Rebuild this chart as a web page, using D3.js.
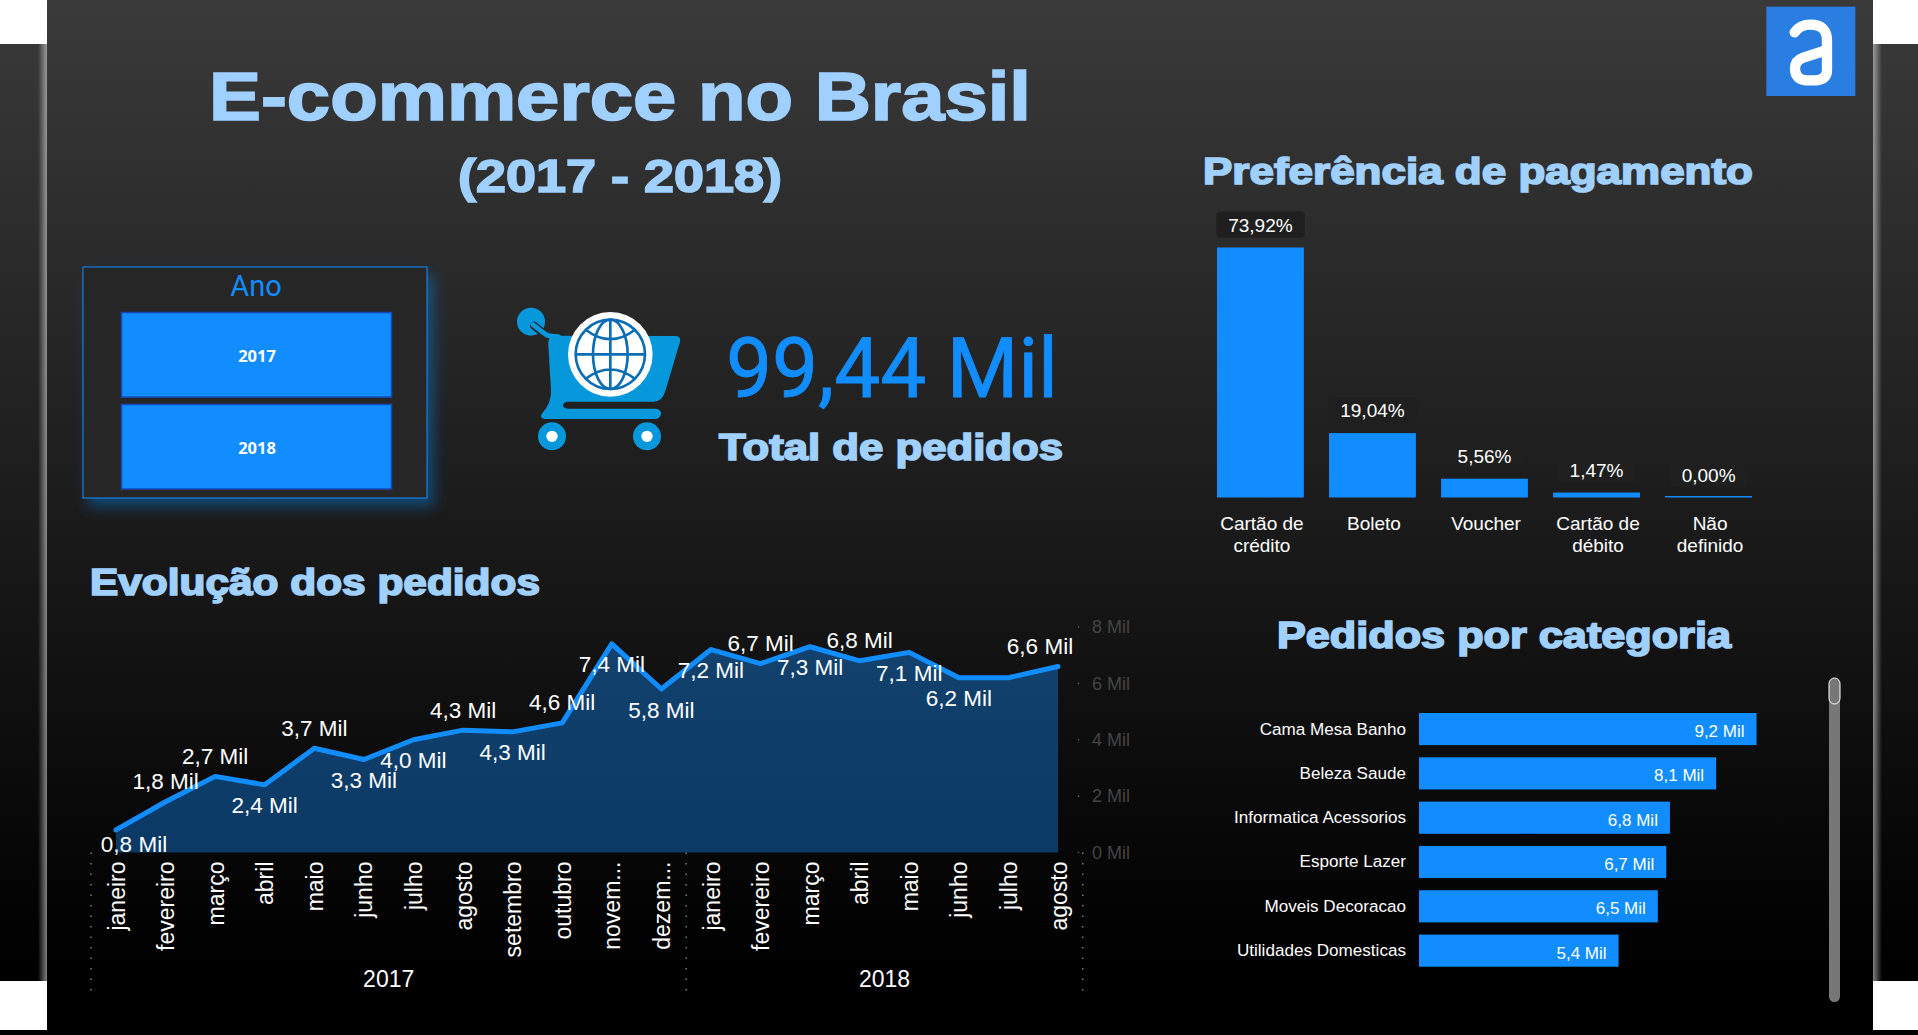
<!DOCTYPE html>
<html>
<head>
<meta charset="utf-8">
<title>E-commerce no Brasil</title>
<script src="https://cdn.jsdelivr.net/npm/d3@7"></script>
<style>
  html, body { margin: 0; padding: 0; background: #000; overflow: hidden; }
  svg { display: block; }
  text { font-family: "Liberation Sans", Arial, sans-serif; }
  .titulo { fill: #9fd0ff; font-weight: bold; stroke: #9fd0ff; stroke-width: 1.7px; }
  .axis path, .axis line { display: none; }
</style>
</head>
<body>
<script>
// Evolucao dos pedidos (mil pedidos por mes)
const meses = ['janeiro', 'fevereiro', 'março', 'abril', 'maio', 'junho', 'julho', 'agosto', 'setembro', 'outubro', 'novem...', 'dezem...',
  'janeiro', 'fevereiro', 'março', 'abril', 'maio', 'junho', 'julho', 'agosto'];
const anos = ['2017', '2018'];
const mesesPorAno = [12, 8];
const pedidosMes = [0.8, 1.8, 2.7, 2.4, 3.7, 3.3, 4.0, 4.34, 4.28, 4.6, 7.4, 5.8, 7.2, 6.7, 7.3, 6.8, 7.1, 6.2, 6.2, 6.6];
const ticksPedidos = [0, 2, 4, 6, 8];

// Preferencia de pagamento (%)
const pagamentos = [['Cartão de', 'crédito'], ['Boleto'], ['Voucher'], ['Cartão de', 'débito'], ['Não', 'definido']];
const pagamentoPct = [73.92, 19.04, 5.56, 1.47, 0.0];

// Pedidos por categoria (mil pedidos)
const categorias = ['Cama Mesa Banho', 'Beleza Saude', 'Informatica Acessorios', 'Esporte Lazer', 'Moveis Decoracao', 'Utilidades Domesticas'];
const pedidosCategoria = [9.2, 8.1, 6.84, 6.74, 6.51, 5.44];

const slicerAnos = ['2017', '2018'];
const totalPedidos = '99,44 Mil';

const w = 1918;
const h = 1035;
const azul = '#118dff';

const br = d3.formatLocale({ decimal: ',', thousands: '.', grouping: [3], currency: ['R$', ''] });
const fmtMil = v => br.format('.1f')(v) + ' Mil';
const fmtPct = v => br.format('.2f')(v) + '%';

const svg = d3.select('body').append('svg').attr('width', w).attr('height', h);
const defs = svg.append('defs');

// Gradiente do fundo
const grad = defs.append('linearGradient').attr('id', 'fundo')
  .attr('gradientUnits', 'userSpaceOnUse').attr('x1', 0).attr('y1', 0).attr('x2', 0).attr('y2', 960);
grad.append('stop').attr('offset', 0).attr('stop-color', '#3a3a3a');
grad.append('stop').attr('offset', 1).attr('stop-color', '#000');

const borda = defs.append('linearGradient').attr('id', 'bordaE');
borda.append('stop').attr('offset', 0).attr('stop-color', '#fff').attr('stop-opacity', 0);
borda.append('stop').attr('offset', 1).attr('stop-color', '#fff').attr('stop-opacity', 0.5);
const bordaD = defs.append('linearGradient').attr('id', 'bordaD');
bordaD.append('stop').attr('offset', 0).attr('stop-color', '#fff').attr('stop-opacity', 0.5);
bordaD.append('stop').attr('offset', 1).attr('stop-color', '#fff').attr('stop-opacity', 0);

defs.append('filter').attr('id', 'sombra').attr('x', '-20%').attr('y', '-20%').attr('width', '140%').attr('height', '140%')
  .append('feDropShadow').attr('dx', 6).attr('dy', 8).attr('stdDeviation', 7)
  .attr('flood-color', azul).attr('flood-opacity', 0.4);

// Fundo da pagina: faixas laterais e painel central
svg.append('rect').attr('width', w).attr('height', h).attr('fill', 'url(#fundo)');
[[0, 47], [1873, 45]].forEach(function (f) {
  svg.append('rect').attr('x', f[0]).attr('y', 0).attr('width', f[1]).attr('height', 44).attr('fill', '#fff');
  svg.append('rect').attr('x', f[0]).attr('y', 981).attr('width', f[1]).attr('height', 49).attr('fill', '#fff');
});
svg.append('rect').attr('x', 38).attr('y', 44).attr('width', 9).attr('height', 937).attr('fill', 'url(#bordaE)');
svg.append('rect').attr('x', 1873).attr('y', 44).attr('width', 9).attr('height', 937).attr('fill', 'url(#bordaD)');

function titulo(txt, x, y, size, len) {
  svg.append('text').attr('class', 'titulo')
    .attr('x', x).attr('y', y)
    .attr('font-size', size)
    .attr('textLength', len).attr('lengthAdjust', 'spacingAndGlyphs')
    .text(txt);
}
titulo('E-commerce no Brasil', 209, 120, 68, 822);
titulo('(2017 - 2018)', 458, 192, 46, 324);
titulo('Total de pedidos', 719, 460, 37, 344);
titulo('Evolução dos pedidos', 90, 595, 36, 450);
titulo('Preferência de pagamento', 1203, 184, 37, 550);
titulo('Pedidos por categoria', 1277, 648, 37, 454);

// Logo
const logo = svg.append('g').attr('transform', 'translate(1750,0) scale(0.3333)');
logo.append('rect').attr('x', 49).attr('y', 20).attr('width', 267).attr('height', 268).attr('fill', '#2a7de1');
logo.append('path')
  .attr('d', 'M134,97 Q150,74 182,74 Q231,74 231,122 V212 Q231,241 190,241 H172 Q135,241 135,205 Q135,182 160,173 L231,150')
  .attr('fill', 'none').attr('stroke', '#fff').attr('stroke-width', 31).attr('stroke-linecap', 'round');

// Slicer de ano
const slicer = svg.append('g');
slicer.append('rect').attr('x', 83).attr('y', 267).attr('width', 344).attr('height', 231)
  .attr('fill', '#252525').attr('stroke', azul).attr('filter', 'url(#sombra)');
slicer.append('text').attr('x', 256).attr('y', 296).attr('text-anchor', 'middle')
  .attr('font-size', 29).attr('fill', azul).style('font-family', 'Roboto').text('Ano');

const ySlicer = d3.scaleBand().domain(slicerAnos).range([312.5, 489]).paddingInner(0.08);
slicer.selectAll('rect.ano').data(slicerAnos).enter().append('rect')
  .attr('class', 'ano')
  .attr('x', 121.5).attr('width', 270)
  .attr('y', d => ySlicer(d)).attr('height', ySlicer.bandwidth())
  .attr('fill', azul).attr('stroke', '#1448b8').attr('stroke-width', 1.5);
slicer.selectAll('text.ano').data(slicerAnos).enter().append('text')
  .attr('class', 'ano')
  .attr('x', 257).attr('y', d => ySlicer(d) + ySlicer.bandwidth() / 2 + 7)
  .attr('text-anchor', 'middle').attr('font-size', 16.5).attr('font-weight', 700)
  .attr('fill', '#fff').style('font-family', '"Open Sans"').text(d => d);

// Carrinho
const cart = svg.append('g').attr('transform', 'translate(500,290) scale(0.3333)');
const corCart = '#0798dc';
cart.append('circle').attr('cx', 93).attr('cy', 95).attr('r', 42).attr('fill', corCart);
cart.append('path').attr('d', 'M102,107 Q125,125 140,140').attr('fill', 'none')
  .attr('stroke', '#252525').attr('stroke-width', 24).attr('stroke-linecap', 'round');
cart.append('path').attr('d', 'M99,104 Q125,125 140,135 Q150,140 175,140').attr('fill', 'none')
  .attr('stroke', corCart).attr('stroke-width', 15).attr('stroke-linecap', 'round');
cart.append('path')
  .attr('d', 'M145,165 Q140,140 170,137 L528,138 Q543,140 540,155 L497,300 Q488,335 460,335 L200,335 Q186,340 190,350 Q195,356 205,356 L468,356 Q485,360 483,372 Q480,387 465,387 L135,387 Q118,385 125,372 Q155,340 153,300 Z')
  .attr('fill', corCart);
cart.append('circle').attr('cx', 331).attr('cy', 193).attr('r', 127).attr('fill', '#fff');
const globo = cart.append('g').attr('fill', 'none').attr('stroke', '#0b6db3').attr('stroke-width', 8);
globo.append('circle').attr('cx', 331).attr('cy', 193).attr('r', 104);
globo.append('ellipse').attr('cx', 331).attr('cy', 193).attr('rx', 52).attr('ry', 104);
globo.append('path').attr('d', 'M331,89 V297 M227,193 H435 M258,120 Q331,175 404,120 M258,266 Q331,211 404,266');
[156, 441].forEach(function (cx) {
  cart.append('circle').attr('cx', cx).attr('cy', 439).attr('r', 42).attr('fill', corCart);
  cart.append('circle').attr('cx', cx).attr('cy', 439).attr('r', 17).attr('fill', '#fff');
});

// KPI
svg.append('text').attr('x', 726).attr('y', 397).attr('font-size', 84).attr('fill', azul)
  .style('font-family', 'Roboto').attr('stroke', azul).attr('stroke-width', 0.8)
  .attr('textLength', 332).attr('lengthAdjust', 'spacingAndGlyphs')
  .text(totalPedidos);

// ---------- Evolucao dos pedidos ----------
const xMes = d3.scalePoint().domain(d3.range(meses.length)).range([116, 1058]);
const yPed = d3.scaleLinear().domain([0, 8]).range([852.5, 627]);

const area = d3.area().x((d, i) => xMes(i)).y0(yPed(0)).y1(d => yPed(d));
const linha = d3.line().x((d, i) => xMes(i)).y(d => yPed(d));

svg.append('path').datum(pedidosMes).attr('d', area).attr('fill', azul).attr('fill-opacity', 0.38);
svg.append('path').datum(pedidosMes).attr('d', linha)
  .attr('fill', 'none').attr('stroke', azul).attr('stroke-width', 5).attr('stroke-linejoin', 'round').attr('stroke-linecap', 'round');

// eixo Y a direita, bem apagado
const eixoY = svg.append('g').attr('class', 'axis')
  .attr('transform', 'translate(1078,0)')
  .call(d3.axisRight(yPed).tickValues(ticksPedidos).tickSize(0).tickPadding(14).tickFormat(d => d + ' Mil'));
eixoY.selectAll('text').attr('font-size', 18).attr('fill', '#444').style('font-family', '"Liberation Sans"');
svg.append('g').selectAll('circle').data(ticksPedidos).enter().append('circle')
  .attr('cx', 1078.5).attr('cy', d => yPed(d)).attr('r', 0.8).attr('fill', '#666');

// eixo X com os meses na vertical
const eixoX = svg.append('g').attr('class', 'axis')
  .attr('transform', 'translate(0,' + yPed(0) + ')')
  .call(d3.axisBottom(xMes).tickSize(0).tickFormat(i => meses[i]));
eixoX.selectAll('text')
  .attr('font-size', 23).attr('fill', '#fff')
  .style('font-family', '"Liberation Sans"')
  .attr('text-anchor', 'end')
  .attr('transform', 'rotate(-90)')
  .attr('x', -9).attr('y', 0).attr('dy', '0.35em');

// separadores e nomes dos anos
const passo = xMes.step();
let acum = 0;
const limites = [xMes(0) - 25];
mesesPorAno.forEach(function (n, k) {
  const x0 = xMes(acum) - passo / 2;
  const x1 = xMes(acum + n - 1) + passo / 2;
  svg.append('text').attr('x', (x0 + x1) / 2).attr('y', 987)
    .attr('text-anchor', 'middle').attr('font-size', 23).attr('fill', '#fff').text(anos[k]);
  limites.push(x1);
  acum += n;
});
svg.append('g').selectAll('line').data(limites).enter().append('line')
  .attr('x1', d => d).attr('x2', d => d)
  .attr('y1', yPed(0)).attr('y2', 993)
  .attr('stroke', '#999').attr('stroke-width', 1.2).attr('stroke-dasharray', '1.5 9');

// rotulos: acima (-1) ou abaixo (+1) da linha; julho/2018 nao tem rotulo no original
const ladoRotulo = [1, -1, -1, 1, -1, 1, 1, -1, 1, -1, 1, 1, 1, -1, 1, -1, 1, 1, 0, -1];
pedidosMes.forEach(function (d, i) {
  if (ladoRotulo[i] === 0) return;
  // primeiro e ultimo rotulos ficam empurrados para dentro
  const ajuste = i === 0 ? 18 : (i === pedidosMes.length - 1 ? -18 : 0);
  svg.append('text')
    .attr('x', xMes(i) + ajuste)
    .attr('y', yPed(d) + ladoRotulo[i] * (i === 0 ? 14 : 20.5) + 8)
    .attr('text-anchor', 'middle').attr('font-size', 22.5).attr('fill', '#fff')
    .text(fmtMil(d));
});

// ---------- Preferencia de pagamento ----------
const xPag = d3.scaleBand().domain(d3.range(pagamentos.length)).range([1217, 1752]).paddingInner(0.225);
const yPag = d3.scaleLinear().domain([0, 73.92]).range([497.5, 247.5]);

svg.append('g').selectAll('rect').data(pagamentoPct).enter().append('rect')
  .attr('x', (d, i) => xPag(i)).attr('width', xPag.bandwidth())
  .attr('y', d => Math.min(yPag(d), yPag(0) - 1.5))
  .attr('height', d => Math.max(yPag(0) - yPag(d), 1.5))
  .attr('fill', azul);

const rotPag = svg.append('g').selectAll('g').data(pagamentoPct).enter().append('g')
  .attr('transform', (d, i) => 'translate(' + (xPag(i) + xPag.bandwidth() / 2) + ',' + (yPag(d) - 10) + ')');
rotPag.append('rect').attr('y', -26).attr('height', 26).attr('rx', 4).attr('fill', '#1f1f1f');
rotPag.append('text').attr('y', -6).attr('text-anchor', 'middle')
  .attr('font-size', 19).attr('fill', '#fff').text(d => fmtPct(d))
  .each(function () {
    const largura = this.getComputedTextLength() + 24;
    d3.select(this.parentNode).select('rect').attr('x', -largura / 2).attr('width', largura);
  });

const eixoPag = svg.append('g').selectAll('text').data(pagamentos).enter().append('text')
  .attr('text-anchor', 'middle').attr('font-size', 19).attr('fill', '#fff');
eixoPag.selectAll('tspan').data(d => d).enter().append('tspan')
  .attr('y', (d, i) => 530 + i * 22)
  .text(d => d);
eixoPag.each(function (d, i) {
  d3.select(this).selectAll('tspan').attr('x', xPag(i) + xPag.bandwidth() / 2 + 1.5);
});

// ---------- Pedidos por categoria ----------
const xCat = d3.scaleLinear().domain([0, 9.2]).range([1419, 1756.5]);
const yCat = d3.scaleBand().domain(categorias).range([713, 966.7]).paddingInner(0.275);

svg.append('g').selectAll('rect').data(pedidosCategoria).enter().append('rect')
  .attr('x', xCat(0))
  .attr('y', (d, i) => yCat(categorias[i]))
  .attr('width', d => xCat(d) - xCat(0))
  .attr('height', yCat.bandwidth())
  .attr('fill', azul);

svg.append('g').selectAll('text').data(pedidosCategoria).enter().append('text')
  .attr('x', d => xCat(d) - 12)
  .attr('y', (d, i) => yCat(categorias[i]) + yCat.bandwidth() / 2 + 8)
  .attr('text-anchor', 'end').attr('font-size', 17).attr('fill', '#fff')
  .text(d => fmtMil(d));

const eixoCat = svg.append('g').attr('class', 'axis')
  .attr('transform', 'translate(1406,0)')
  .call(d3.axisLeft(yCat).tickSize(0).tickPadding(0));
eixoCat.selectAll('text').attr('font-size', 17.1).attr('fill', '#fff').style('font-family', '"Liberation Sans"');

// barra de rolagem
svg.append('rect').attr('x', 1829).attr('y', 680).attr('width', 11).attr('height', 322).attr('rx', 5.5).attr('fill', '#777');
svg.append('rect').attr('x', 1829).attr('y', 678).attr('width', 11).attr('height', 26).attr('rx', 5.5)
  .attr('fill', '#777').attr('stroke', '#fff');
</script>
</body>
</html>
